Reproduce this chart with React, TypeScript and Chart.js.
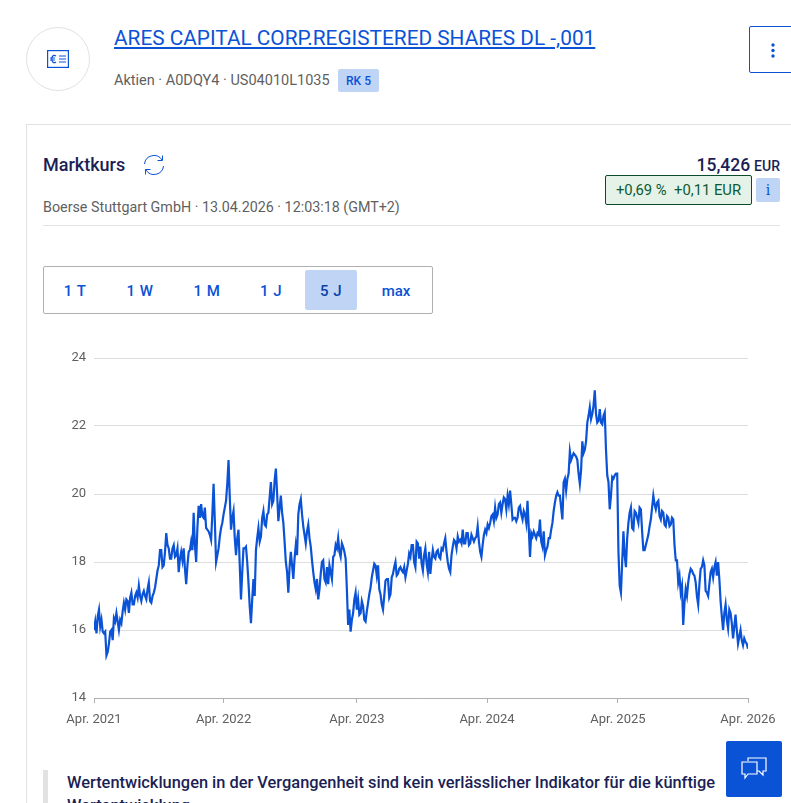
import React, { useEffect, useRef } from "react";
import { Chart, registerables } from "chart.js";

Chart.register(...registerables);

const tickLabels = ["Apr. 2021", "Apr. 2022", "Apr. 2023", "Apr. 2024", "Apr. 2025", "Apr. 2026"];
const tickSteps = [0, 104, 211, 315.5, 420.6, 525];

const prices2021 = [16.0,16.25, 15.9,16.4, 16.6,16.1, 16.3,15.95, 15.9,15.95, 15.25,15.35, 15.6,15.95, 16.0,15.7, 16.35,16.25, 16.5,16.25, 16.0,16.3, 16.2,16.55, 16.8,16.6, 16.9,16.85, 16.5,16.95, 17.1,16.75, 16.75,17.0, 17.1,16.95, 17.3,17.0, 16.85,17.05, 17.15,17.0, 16.9,17.2, 17.4,16.85, 16.8,17.0, 17.1,17.25, 17.5,17.75, 17.9,18.35, 18.35,17.85, 17.9,18.3, 18.85,18.5, 18.4,18.1, 18.1,18.4, 18.5,18.15, 18.2,18.4, 17.7,18.1, 18.3,18.05, 18.4,17.8, 17.35,17.9, 18.3,18.35, 18.6,18.35, 19.45,18.5, 18.0,19.0, 19.65,19.3, 19.7,19.35, 19.3,19.6, 19.0,18.95, 18.9,18.8, 18.65,19.4, 20.3,19.2, 18.0,18.2, 18.4,18.75];
const prices2022 = [19.0,19.15, 19.4,19.6, 19.8,20.3, 21.0,19.9, 18.95,19.3, 19.5,18.7, 18.2,18.7, 18.95,17.9, 16.9,17.7, 18.4,18.4, 18.45,18.0, 17.4,16.7, 16.2,16.9, 17.5,17.0, 18.35,18.7, 19.0,18.6, 18.75,19.3, 19.5,19.1, 19.05,19.4, 19.45,19.9, 20.35,19.7, 19.8,20.4, 20.75,20.0, 19.2,19.6, 19.95,19.45, 19.15,18.6, 18.0,17.7, 17.1,17.85, 18.3,17.9, 17.5,18.1, 18.5,18.2, 19.4,19.7, 19.85,19.4, 19.05,18.8, 18.55,18.9, 19.1,18.7, 18.45,18.05, 17.7,17.4, 17.2,17.5, 16.9,17.2, 17.65,18.0, 18.05,17.5, 17.4,17.85, 17.35,17.9, 17.7,17.5, 18.15,18.2, 18.5,18.4, 18.7,18.3, 18.15,18.55, 18.45,18.3, 18.1,17.2, 16.15,16.6, 15.95,16.3];
const prices2023 = [16.5,16.9, 17.1,16.6, 16.9,16.45, 16.5,16.85, 16.7,16.3, 16.25,16.55, 16.8,17.05, 17.25,17.55, 17.75,17.95, 17.9,17.6, 17.9,17.2, 17.05,16.75, 16.6,17.0, 17.45,17.5, 17.5,16.95, 17.05,17.55, 17.65,17.85, 18.0,17.6, 17.65,17.8, 17.85,17.75, 17.7,17.85, 17.55,17.75, 17.95,18.25, 18.15,18.5, 18.5,18.0, 17.85,18.6, 18.55,18.1, 18.45,17.95, 17.75,18.2, 18.4,17.95, 17.7,18.3, 17.65,18.05, 18.35,18.15, 18.1,18.3, 18.35,18.15, 18.1,18.4, 18.35,18.55, 18.7,18.3, 18.0,17.8, 17.7,18.2, 18.45,18.65, 18.6,18.4, 18.75,18.6, 18.65,18.55, 18.95,18.55, 18.55,18.85, 18.85,18.5, 18.55,18.8, 18.7,18.6, 18.7,18.75, 19.05,18.6, 18.3,18.15];
const prices2024 = [18.5,18.8, 18.95,18.85, 19.1,19.0, 19.15,19.35, 19.4,19.2, 19.6,19.3, 19.4,19.7, 19.75,19.45, 19.7,19.9, 19.85,19.55, 19.95,19.7, 20.1,19.7, 19.25,19.3, 19.3,19.2, 19.3,19.6, 19.65,19.4, 19.25,19.5, 19.4,19.15, 19.8,19.0, 18.15,18.85, 18.75,18.9, 18.8,18.7, 18.85,18.8, 19.25,18.6, 18.45,18.9, 18.2,18.35, 18.45,18.7, 18.7,18.95, 19.15,19.5, 19.75,19.95, 20.05,19.95, 19.95,19.6, 19.25,20.35, 20.45,20.1, 20.45,20.6, 21.25,21.0, 21.1,21.2, 21.15,21.1, 21.0,20.6, 20.3,20.7, 21.55,21.2, 21.3,21.55, 22.1,22.3, 22.55,22.2, 22.35,22.6, 23.05,22.35, 22.1,22.15, 22.5,22.1, 22.05,22.3, 22.4,21.3, 20.55,20.35, 19.55,19.95];
const prices2025 = [20.5,20.45, 20.55,20.6, 20.6,18.3, 17.3,17.1, 18.0,18.9, 18.2,17.85, 18.7,19.15, 19.45,19.6, 19.0,18.95, 19.5,19.45, 19.3,19.15, 19.6,19.55, 18.9,18.35, 18.35,18.5, 18.65,18.8, 19.05,19.25, 19.6,19.95, 19.7,19.55, 19.75,19.8, 19.35,19.25, 19.5,19.45, 19.1,19.05, 19.35,19.3, 19.05,19.1, 19.3,19.25, 18.5,18.05, 18.05,17.4, 17.6,17.1, 17.3,16.15, 16.8,17.2, 17.0,17.4, 17.65,17.8, 17.75,17.65, 17.6,17.4, 17.0,16.75, 17.35,17.8, 17.85,18.05, 17.9,17.15, 17.1,17.0, 17.35,17.7, 17.8,17.55, 17.85,18.0, 17.6,18.0, 17.5,16.85, 16.4,16.0, 16.5,16.75, 16.3,16.05, 16.6,16.5, 16.2,15.75, 16.1,16.45, 16.0,15.6, 15.8,16.0, 15.7,15.55, 15.75,15.65, 15.6,15.45];
const prices = [...prices2021, ...prices2022, ...prices2023, ...prices2024, ...prices2025];

const periods = ["1 T", "1 W", "1 M", "1 J", "5 J", "max"];
const periodCenters = [75, 140, 207, 271, 331, 396];

const FONT = "Roboto, 'Noto Sans', sans-serif";
const BLUE = "#0a52d6";
const NAVY = "#1b1f55";
const GREY = "#5f5f5f";

const T = ({ x, y, s, c, w, children, sp }: any) => (
  <div style={{ position: "absolute", top: y, left: x, lineHeight: "20px", whiteSpace: "nowrap", fontSize: s, color: c, fontWeight: w ?? 400, letterSpacing: sp ?? 0 }}>
    {children}
  </div>
);

export default function App() {
  const ref = useRef<HTMLCanvasElement>(null);
  useEffect(() => {
    const chart = new Chart(ref.current!, {
      type: "line",
      data: {
        datasets: [{
          data: prices.map((y, x) => ({ x, y })),
          borderColor: BLUE,
          borderWidth: 2.2,
          pointRadius: 0,
          tension: 0,
          fill: false,
        }],
      },
      options: {
        animation: false,
        responsive: false,
        parsing: false,
        layout: { padding: { top: 18, right: 43, left: 0, bottom: 0 } },
        plugins: { legend: { display: false }, tooltip: { enabled: false } },
        scales: {
          x: {
            type: "linear",
            min: 0,
            max: 525,
            afterBuildTicks: (axis: any) => { axis.ticks = tickSteps.map((value) => ({ value })); },
            afterFit: (axis: any) => { axis.height = 42; },
            ticks: {
              autoSkip: false,
              maxRotation: 0,
              color: GREY,
              padding: 9,
              font: { family: FONT, size: 13 },
              callback: (v: any) => tickLabels[tickSteps.indexOf(v)],
            },
            grid: { drawOnChartArea: false, tickLength: 5, color: "#b0b0b0" },
            border: { color: "#b0b0b0" },
          },
          y: {
            min: 14,
            max: 24,
            afterFit: (axis: any) => { axis.width = 94; },
            ticks: { stepSize: 2, color: GREY, padding: 8, font: { family: FONT, size: 13 } },
            grid: { color: "#dddddd", drawTicks: false },
            border: { display: false },
          },
        },
      },
    });
    return () => chart.destroy();
  }, []);

  return (
    <div style={{ position: "fixed", left: 0, top: 0, width: 791, height: 803, overflow: "hidden", background: "#fff", fontFamily: FONT }}>
      <div style={{ position: "absolute", left: 26, top: 27, width: 64, height: 64, border: "1px solid #e2e2e2", borderRadius: "50%", boxSizing: "border-box" }} />
      <svg style={{ position: "absolute", left: 47, top: 50 }} width="22" height="18" viewBox="0 0 22 18" fill="none" stroke={BLUE} strokeWidth="1.2">
        <rect x="0.6" y="0.6" width="20.8" height="16.8" />
        <path d="M9 6c-2-1.6-4.2-.4-4.2 3s2.2 4.6 4.2 3M3 8h5M3 10h5M12 6h7M12 9h7M12 12h7" />
      </svg>
      <div style={{ position: "absolute", left: 114, top: 26, fontSize: 20.8, lineHeight: "24px", color: BLUE, textDecoration: "underline", whiteSpace: "nowrap" }}>
        ARES CAPITAL CORP.REGISTERED SHARES DL -,001
      </div>
      <T x={114} y={71} s={14.5} c={GREY}>Aktien · A0DQY4 · US04010L1035</T>
      <div style={{ position: "absolute", left: 338, top: 69, width: 41, height: 23, background: "#c0d5f6", borderRadius: 2, color: BLUE, fontSize: 12, fontWeight: 500, textAlign: "center", lineHeight: "24px" }}>RK 5</div>
      <div style={{ position: "absolute", left: 749, top: 26, width: 60, height: 47, border: `1px solid ${BLUE}`, boxSizing: "border-box", borderRadius: 2 }} />
      <svg style={{ position: "absolute", left: 770, top: 42 }} width="6" height="17" fill={BLUE}>
        <circle cx="3" cy="3" r="1.7" /><circle cx="3" cy="8.5" r="1.7" /><circle cx="3" cy="14" r="1.7" />
      </svg>

      <div style={{ position: "absolute", left: 26, top: 124, width: 800, height: 700, borderLeft: "1px solid #e2e2e2", borderTop: "1px solid #e2e2e2" }} />
      <T x={43} y={155} s={18} c={NAVY} w={500}>Marktkurs</T>
      <svg style={{ position: "absolute", left: 142, top: 153 }} width="24" height="24" viewBox="0 0 24 24" fill="none" stroke={BLUE} strokeWidth="1">
        <path d="M2.5 11A9.5 9.5 0 0 1 20 7M21.5 13A9.5 9.5 0 0 1 4 17" />
        <path d="M20.5 2.5V7.5H15.5M3.5 21.5V16.5H8.5" />
      </svg>
      <T x={43} y={197} s={14.3} c={GREY}>Boerse Stuttgart GmbH · 13.04.2026 · 12:03:18 (GMT+2)</T>
      <div style={{ position: "absolute", left: 43, top: 225, width: 737, height: 1, background: "#e2e2e2" }} />
      <div style={{ position: "absolute", right: 11, top: 155, lineHeight: "20px", whiteSpace: "nowrap", color: NAVY }}>
        <span style={{ fontSize: 17.5, fontWeight: 500 }}>15,426</span> <span style={{ fontSize: 14, fontWeight: 500 }}>EUR</span>
      </div>
      <div style={{ position: "absolute", left: 605, top: 175, width: 147, height: 30, boxSizing: "border-box", border: "1px solid #0c4a2c", borderRadius: 2, background: "#e5f2e8", color: "#0c5a34", fontSize: 14.8, lineHeight: "29px", textAlign: "center", whiteSpace: "pre" }}>
        +0,69 %  +0,11 EUR
      </div>
      <div style={{ position: "absolute", left: 756, top: 178, width: 24, height: 24, background: "#c0d5f6", borderRadius: 2, color: BLUE, fontSize: 14, fontFamily: "'DejaVu Serif', serif", textAlign: "center", lineHeight: "24px" }}>i</div>

      <div style={{ position: "absolute", left: 43, top: 266, width: 390, height: 48, boxSizing: "border-box", border: "1px solid #b0b0b0", borderRadius: 2 }} />
      <div style={{ position: "absolute", left: 305, top: 270, width: 52, height: 40, background: "#c0d5f6", borderRadius: 2 }} />
      {periods.map((p, i) => (
        <div key={p} style={{ position: "absolute", left: periodCenters[i] - 30, width: 60, top: 281, lineHeight: "20px", textAlign: "center", fontSize: 15, fontWeight: 500, color: i === 4 ? "#0b3fa8" : BLUE, letterSpacing: i === 5 ? 0 : 0.5 }}>{p}</div>
      ))}

      <canvas ref={ref} width={791} height={400} style={{ position: "absolute", left: 0, top: 340, display: "block" }} />

      <div style={{ position: "absolute", left: 43, top: 770, width: 5, height: 40, background: "#e2e2e2" }} />
      <div style={{ position: "absolute", left: 67, top: 771, width: 665, fontSize: 16.4, lineHeight: "23px", fontWeight: 500, color: NAVY }}>
        Wertentwicklungen in der Vergangenheit sind kein verlässlicher Indikator für die künftige Wertentwicklung
      </div>
      <div style={{ position: "absolute", left: 726, top: 741, width: 56, height: 56, background: BLUE, borderRadius: 2 }} />
      <svg style={{ position: "absolute", left: 740, top: 756 }} width="28" height="26" viewBox="0 0 28 26" fill="none" stroke="#fff" strokeWidth="1.2">
        <path d="M8 5V2h18v13h-3v4l-4-4h-2" />
        <path d="M2 6h15v12H8l-3 4v-4H2z" />
      </svg>
    </div>
  );
}
